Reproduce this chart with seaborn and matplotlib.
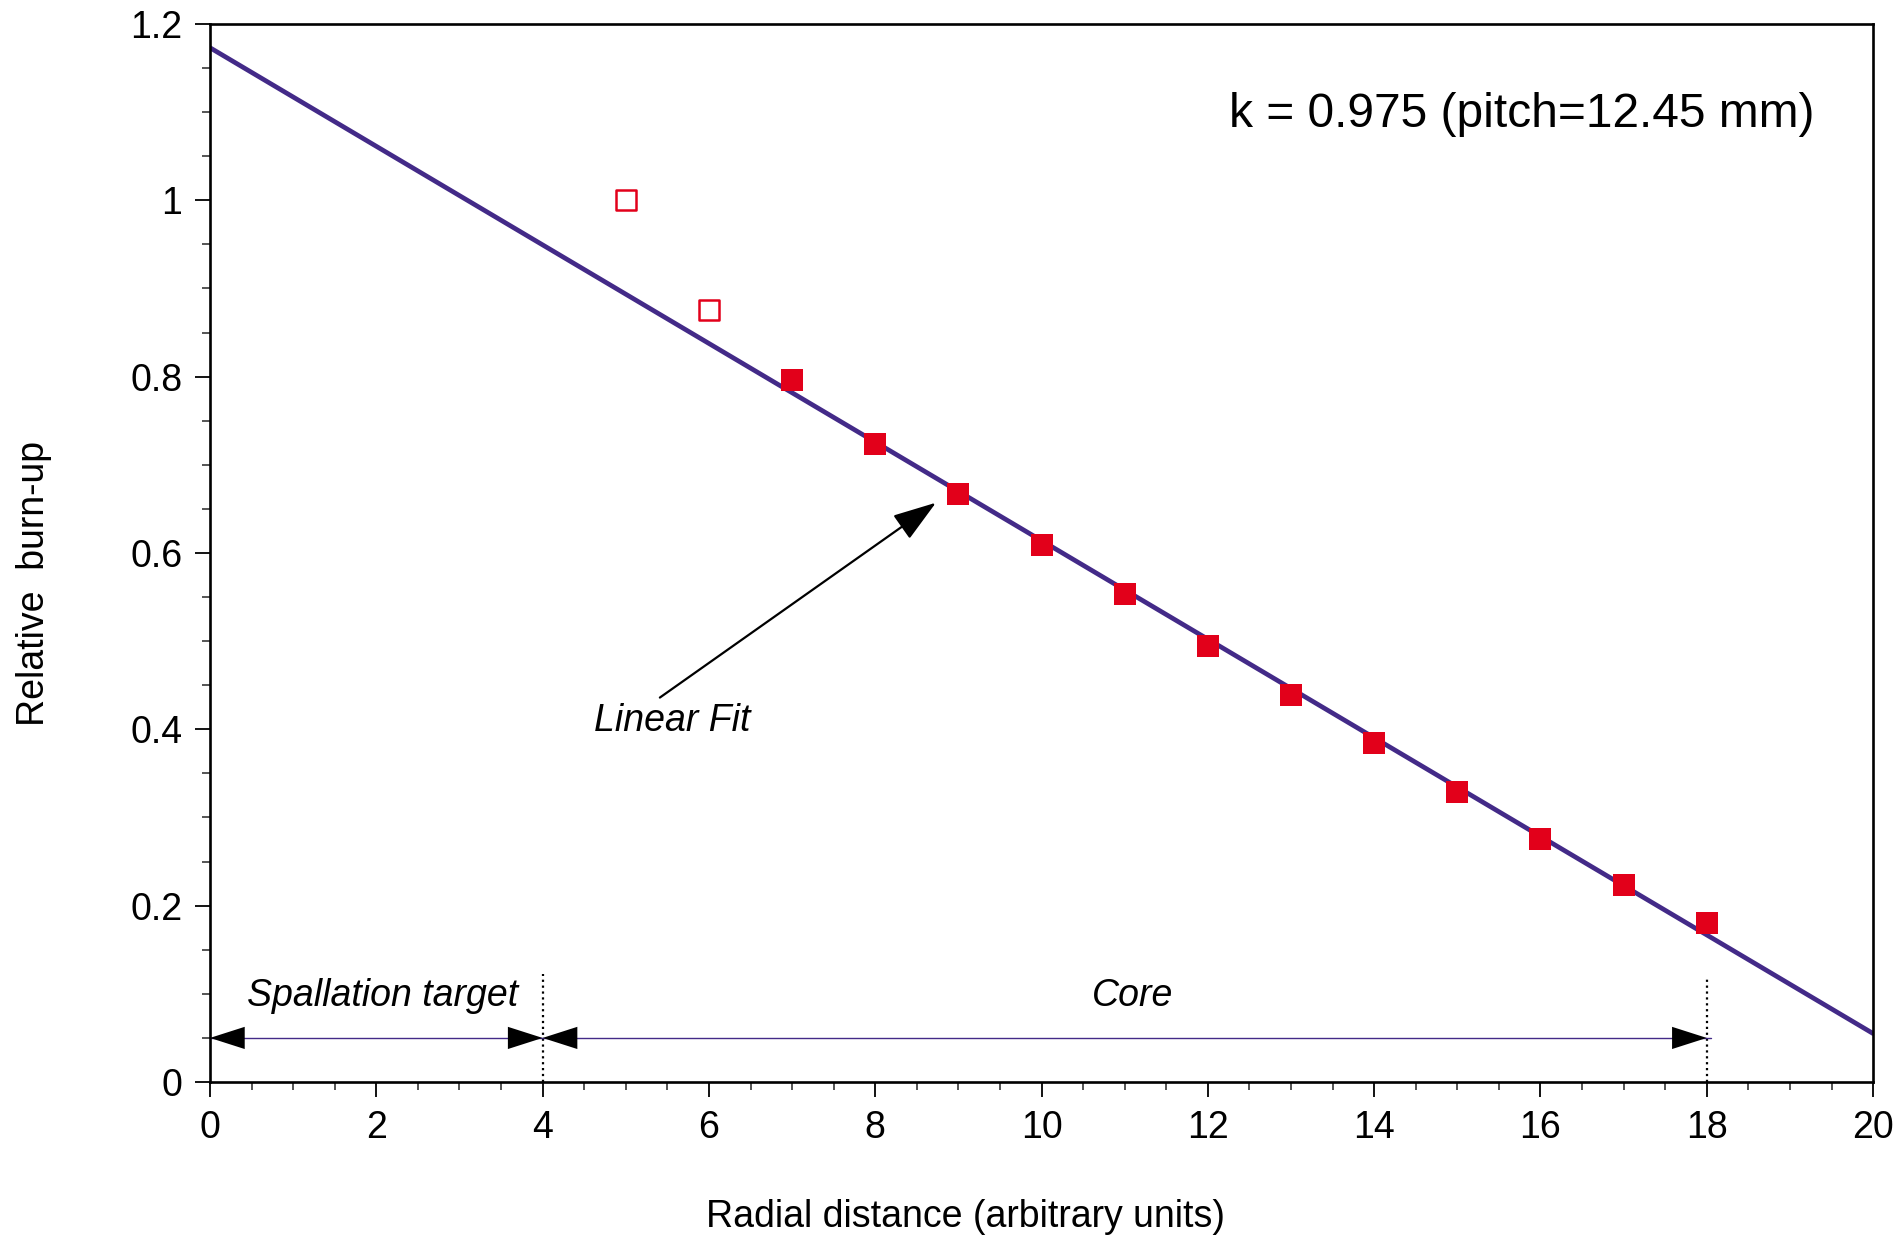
import matplotlib
matplotlib.use("Agg")
import matplotlib.pyplot as plt
import seaborn as sns
import pandas as pd
import numpy as np

# measured burn-up, open = outside the core fit, filled = core
open_x = [5, 6]
open_y = [1.0, 0.876]
core_x = [7, 8, 9, 10, 11, 12, 13, 14, 15, 16, 17, 18]
core_y = [0.796, 0.724, 0.667, 0.609, 0.553, 0.495, 0.439, 0.384, 0.329, 0.276, 0.223, 0.180]

# linear fit end points
fit_x = [0, 20]
fit_y = [1.173, 0.055]

xticks = [0, 2, 4, 6, 8, 10, 12, 14, 16, 18, 20]
yticks = [0, 0.2, 0.4, 0.6, 0.8, 1.0, 1.2]
ytick_labels = ["0", "0.2", "0.4", "0.6", "0.8", "1", "1.2"]

red = "#e2001a"
purple = "#432a88"

sns.set_style("ticks")
plt.rcParams["font.family"] = ["Liberation Sans", "DejaVu Sans"]
plt.rcParams["text.color"] = "black"
plt.rcParams["axes.labelcolor"] = "black"

fig = plt.figure(figsize=(18.97, 12.39), dpi=100)
ax = fig.add_axes([0.1107, 0.1267, 0.8767, 0.8540])

fit = pd.DataFrame({"x": fit_x, "y": fit_y})
sns.lineplot(data=fit, x="x", y="y", ax=ax, color=purple, lw=3.4, zorder=2)

core = pd.DataFrame({"x": core_x, "y": core_y})
sns.scatterplot(data=core, x="x", y="y", ax=ax, marker="s", s=240,
                color=red, edgecolor=red, linewidth=0, zorder=3)
opn = pd.DataFrame({"x": open_x, "y": open_y})
sns.scatterplot(data=opn, x="x", y="y", ax=ax, marker="s", s=200,
                facecolor="white", edgecolor=red, linewidth=1.8, zorder=3)

ax.set_xlim(0, 20)
ax.set_ylim(0, 1.2)
ax.set_xticks(xticks)
ax.set_xticklabels([str(t) for t in xticks])
ax.set_yticks(yticks)
ax.set_yticklabels(ytick_labels)
ax.set_xticks(np.arange(0, 20.01, 0.5), minor=True)
ax.set_yticks(np.arange(0, 1.201, 0.05), minor=True)
ax.tick_params(which="major", direction="out", length=11, width=1.3,
               labelsize=27, pad=9, colors="black")
ax.tick_params(which="minor", direction="out", length=5.5, width=1.1)
for sp in ax.spines.values():
    sp.set_visible(True)
    sp.set_linewidth(1.9)
    sp.set_color("black")

ax.set_xlabel("Radial distance (arbitrary units)", fontsize=27, labelpad=38, x=0.454)
ax.set_ylabel("Relative  burn-up", fontsize=27, labelpad=56, y=0.471)

# region markers
ax.plot([4, 4], [0, 0.123], ls=":", color="black", lw=1.6)
ax.plot([18, 18], [0, 0.12], ls=":", color="black", lw=1.6)
ax.plot([0, 4], [0.05, 0.05], color=purple, lw=1.0)
ax.plot([4, 18.05], [0.05, 0.05], color=purple, lw=1.0)
head = dict(arrowstyle="-|>,head_length=1.25,head_width=0.4", mutation_scale=20,
            lw=0, color="black", shrinkA=0, shrinkB=0)
for a, b in [(2, 0), (2, 4), (11, 4), (11, 18)]:
    ax.annotate("", xy=(b, 0.05), xytext=(a, 0.05), arrowprops=head)

ax.text(2.08, 0.097, "Spallation target", style="italic", fontsize=27,
        ha="center", va="center")
ax.text(11.09, 0.097, "Core", style="italic", fontsize=27,
        ha="center", va="center")

ax.annotate("", xy=(8.73, 0.657), xytext=(5.41, 0.436),
            arrowprops=dict(arrowstyle="-|>,head_length=1.35,head_width=0.45",
                            mutation_scale=20, lw=1.6, color="black",
                            shrinkA=0, shrinkB=0))
ax.text(5.56, 0.409, "Linear Fit", style="italic", fontsize=27,
        ha="center", va="center")

ax.text(19.3, 1.097, "k = 0.975 (pitch=12.45 mm)", fontsize=34.5,
        ha="right", va="center")

plt.savefig("out.png", dpi=100)
